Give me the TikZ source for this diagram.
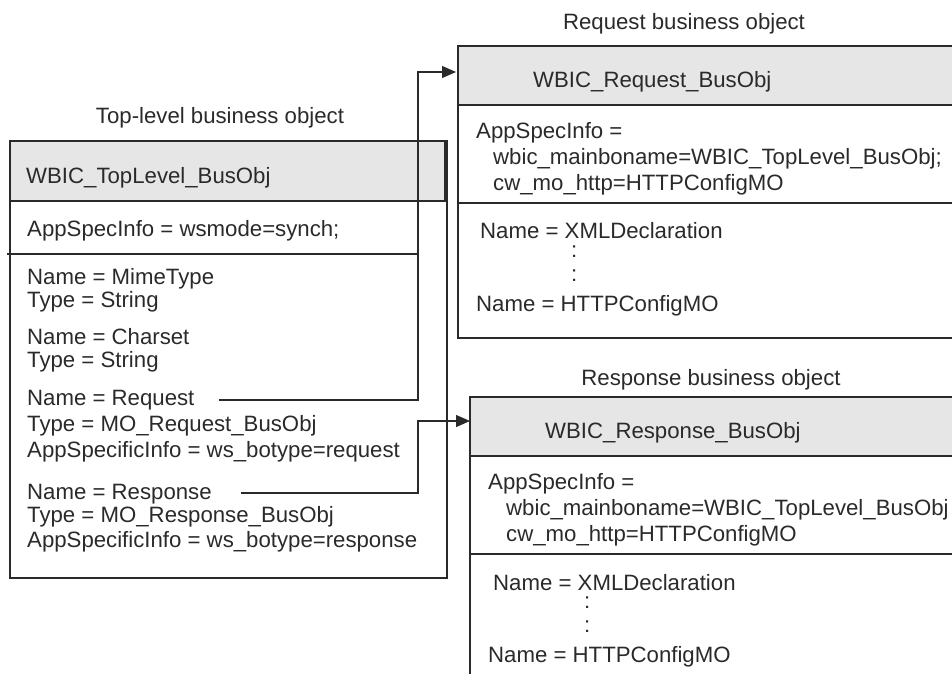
\documentclass[tikz,border=0pt]{standalone}
\usepackage{fontspec}
\setmainfont{Liberation Sans}
\usetikzlibrary{arrows.meta}
\definecolor{hdr}{HTML}{E6E6E7}
\definecolor{ln}{HTML}{2A2A2A}
\tikzset{
  txt/.style={anchor=base west,inner sep=0pt,font=\fontsize{22.2}{24}\selectfont,text=ln},
  ttl/.style={anchor=base,inner sep=0pt,font=\fontsize{22.2}{24}\selectfont,text=ln},
  boxline/.style={draw=ln,line width=1.3pt},
  hdrbox/.style={boxline,fill=hdr,anchor=north west,inner sep=0pt,outer sep=0pt},
  conn/.style={draw=ln,line width=1.2pt,-{Triangle[length=14pt,width=12pt]}},
  plain/.style={draw=ln,line width=1.2pt}
}
\begin{document}
\begin{tikzpicture}[x=1pt,y=-1pt]
\useasboundingbox (0,0) rectangle (952,673);
\clip (0,0) rectangle (952,673);

% ---------- Top-level box ----------
\node[ttl] (tltitle) at (220,123) {Top-level business object};
\draw[boxline] (10,141) rectangle (447,578);
\node[hdrbox,minimum width=435pt,minimum height=60pt] (tlhead) at (10,141) {};
\draw[plain] (7,254) -- (418,254);
\node[txt] (tlname) at (26,183) {WBIC\_TopLevel\_BusObj};
\node[txt] (tlasi) at (27,236) {AppSpecInfo = wsmode=synch;};
\node[txt] (mime1) at (27,284) {Name = MimeType};
\node[txt] (mime2) at (27,307) {Type = String};
\node[txt] (cs1) at (27,344) {Name = Charset};
\node[txt] (cs2) at (27,367) {Type = String};
\node[txt] (rq1) at (27,405) {Name = Request};
\node[txt] (rq2) at (27,431) {Type = MO\_Request\_BusObj};
\node[txt] (rq3) at (27,457) {AppSpecificInfo = ws\_botype=request};
\node[txt] (rs1) at (27,499) {Name = Response};
\node[txt] (rs2) at (27,522) {Type = MO\_Response\_BusObj};
\node[txt] (rs3) at (27,547) {AppSpecificInfo = ws\_botype=response};

% ---------- Request box ----------
\node[ttl] (rqtitle) at (684,29) {Request business object};
\draw[boxline] (458,46) rectangle (1000,338);
\node[hdrbox,minimum width=542pt,minimum height=59pt] (rqhead) at (458,46) {};
\draw[plain] (457,203) -- (1000,203);
\node[txt] (rqname) at (533,87) {WBIC\_Request\_BusObj};
\node[txt] (rqa1) at (476,138) {AppSpecInfo =};
\node[txt] (rqa2) at (493,164) {wbic\_mainboname=WBIC\_TopLevel\_BusObj;};
\node[txt] (rqa3) at (493,190) {cw\_mo\_http=HTTPConfigMO};
\node[txt] (rqf1) at (480,238) {Name = XMLDeclaration};
\node[txt] (rqd1) at (571,257) {:};
\node[txt] (rqd2) at (571,281) {:};
\node[txt] (rqf2) at (476,311) {Name = HTTPConfigMO};

% ---------- Response box ----------
\node[ttl] (rstitle) at (711,385) {Response business object};
\draw[boxline] (470,397) rectangle (1000,720);
\node[hdrbox,minimum width=530pt,minimum height=59pt] (rshead) at (470,397) {};
\draw[plain] (469,554) -- (1000,554);
\node[txt] (rsname) at (545,438) {WBIC\_Response\_BusObj};
\node[txt] (rsa1) at (488,489) {AppSpecInfo =};
\node[txt] (rsa2) at (506,515) {wbic\_mainboname=WBIC\_TopLevel\_BusObj};
\node[txt] (rsa3) at (506,541) {cw\_mo\_http=HTTPConfigMO};
\node[txt] (rsf1) at (493,590) {Name = XMLDeclaration};
\node[txt] (rsd1) at (584,608) {:};
\node[txt] (rsd2) at (584,632) {:};
\node[txt] (rsf2) at (488,662) {Name = HTTPConfigMO};

% ---------- Connectors ----------
\coordinate (reqstart) at (219,400);
\coordinate (reqbend) at (418,72);
\coordinate (reqend) at (456,72);
\draw[conn] (reqstart) -| (reqbend) -- (reqend);

\coordinate (resstart) at (241,493);
\coordinate (resbend) at (418,421);
\coordinate (resend) at (470,421);
\draw[conn] (resstart) -| (resbend) -- (resend);
\end{tikzpicture}
\end{document}
